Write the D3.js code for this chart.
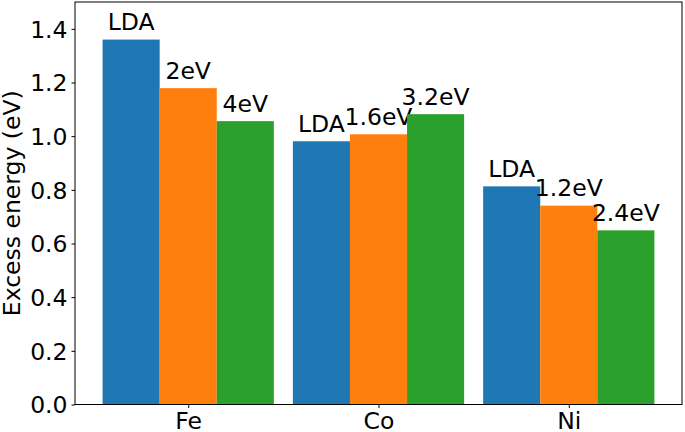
<!DOCTYPE html>
<html>
<head>
<style>
body { margin: 0; background: white; }
text { font-family: "DejaVu Sans", sans-serif; }
</style>
</head>
<body>
<div id="chart"></div>
<script src="https://cdn.jsdelivr.net/npm/d3@7"></script>
<script>
var elements = ["Fe", "Co", "Ni"];
var lda = [1.36, 0.981, 0.813];
var uMid = [1.179, 1.007, 0.741];
var uHigh = [1.056, 1.082, 0.649];
var midLabels = ["2eV", "1.6eV", "1.2eV"];
var highLabels = ["4eV", "3.2eV", "2.4eV"];
var yTicks = [0, 0.2, 0.4, 0.6, 0.8, 1.0, 1.2, 1.4];

(function() {
    var dims = { width: 685, height: 432 };
    var margins = { top: 2, right: 3, bottom: 27.5, left: 75 };
    var colors = ["#1f77b4", "#ff7f0e", "#2ca02c"];
    var fontSize = 23.5;

    var series = [
        { values: lda, labels: elements.map(function() { return "LDA"; }) },
        { values: uMid, labels: midLabels },
        { values: uHigh, labels: highLabels }
    ];

    var svg = d3.select("#chart").append("svg")
        .attr("width", dims.width)
        .attr("height", dims.height);

    var x = d3.scaleLinear()
        .domain([-0.595, 2.595])
        .range([margins.left, dims.width - margins.right]);
    var y = d3.scaleLinear()
        .domain([0, 1.5])
        .range([dims.height - margins.bottom, margins.top]);
    var barW = 0.3;

    var gbars = svg.append("g").attr("class", "bars");
    series.forEach(function(s, k) {
        var off = (k - 1) * barW;
        gbars.selectAll("rect.s" + k)
            .data(s.values)
            .enter().append("rect")
            .attr("x", function(d, i) { return x(i + off - barW / 2); })
            .attr("width", function() { return x(barW) - x(0); })
            .attr("y", function(d) { return y(d); })
            .attr("height", function(d) { return y(0) - y(d); })
            .attr("fill", colors[k]);
        gbars.selectAll("text.s" + k)
            .data(s.values)
            .enter().append("text")
            .attr("x", function(d, i) { return x(i + off); })
            .attr("y", function(d) { return y(d) - 9.5; })
            .attr("text-anchor", "middle")
            .attr("font-size", fontSize)
            .attr("fill", "black")
            .text(function(d, i) { return s.labels[i]; });
    });

    var yaxis = d3.axisLeft(y)
        .tickValues(yTicks)
        .tickFormat(d3.format(".1f"))
        .tickSize(3.5)
        .tickPadding(4);
    var gy = svg.append("g")
        .attr("transform", "translate(" + margins.left + ",0)")
        .call(yaxis);
    gy.select(".domain").remove();
    gy.selectAll("text").attr("font-size", fontSize).attr("font-family", "DejaVu Sans").attr("dy", "0.36em");

    var xaxis = d3.axisBottom(x)
        .tickValues([0, 1, 2])
        .tickFormat(function(d) { return elements[d]; })
        .tickSize(3.5)
        .tickPadding(4);
    var gx = svg.append("g")
        .attr("transform", "translate(0," + y(0) + ")")
        .call(xaxis);
    gx.select(".domain").remove();
    gx.selectAll("text").attr("font-size", fontSize).attr("font-family", "DejaVu Sans");

    svg.selectAll(".tick line").attr("stroke", "black").attr("stroke-width", 1);

    // frame
    svg.append("rect")
        .attr("x", margins.left)
        .attr("y", margins.top)
        .attr("width", dims.width - margins.right - margins.left)
        .attr("height", y(0) - margins.top)
        .attr("fill", "none")
        .attr("stroke", "black")
        .attr("stroke-width", 1);

    svg.append("text")
        .attr("transform", "translate(19.5," + ((margins.top + y(0)) / 2) + ") rotate(-90)")
        .attr("text-anchor", "middle")
        .attr("font-size", fontSize)
        .text("Excess energy (eV)");
})();
</script>
</body>
</html>
